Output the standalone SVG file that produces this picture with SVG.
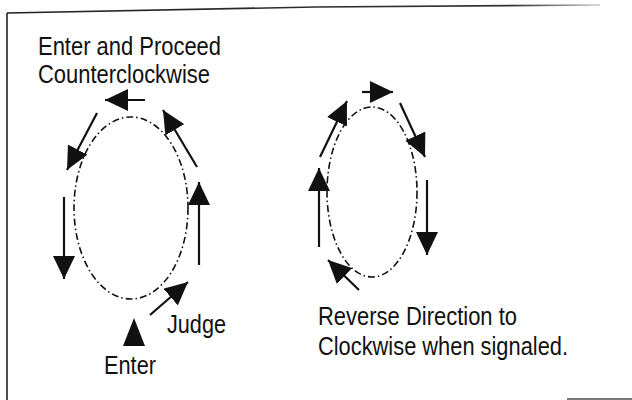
<svg xmlns="http://www.w3.org/2000/svg" width="632" height="400" viewBox="0 0 632 400">
<style>
.lbl{font-family:"Liberation Sans",Arial,sans-serif;font-size:25px;fill:#111}
.track{fill:none;stroke:#111;stroke-width:1.6;stroke-dasharray:7 3 1.5 3}
.arr{stroke:#111;stroke-width:2.2;fill:none;marker-end:url(#ah)}
.frame{stroke:#222;stroke-width:1.6;fill:none}
</style>
<defs>
<marker id="ah" markerUnits="userSpaceOnUse" markerWidth="24" markerHeight="22" viewBox="0 0 24 22" refX="23" refY="11" orient="auto">
<path d="M0,0 L23,11 L0,22 z" fill="#111"/>
</marker>
<linearGradient id="fade" x1="0" y1="0" x2="1" y2="0">
<stop offset="0" stop-color="#222"/>
<stop offset="0.85" stop-color="#333"/>
<stop offset="1" stop-color="#ccc"/>
</linearGradient>
</defs>
<rect width="632" height="400" fill="#fff"/>
<g id="frame">
<line class="frame" x1="7" y1="13" x2="7" y2="400"/>
<polyline points="7,13 316,7 600,5" fill="none" stroke="url(#fade)" stroke-width="1.6"/>
<line x1="567" y1="399" x2="632" y2="399" stroke="#777" stroke-width="2"/>
</g>
<g id="left-track">
<ellipse class="track" cx="131" cy="208" rx="57" ry="91"/>
</g>
<g id="right-track">
<ellipse class="track" cx="372" cy="192" rx="45" ry="85"/>
</g>
<g id="connectors">
<line class="arr" x1="145" y1="100" x2="105" y2="100"/>
<line class="arr" x1="97" y1="113" x2="67" y2="170"/>
<line class="arr" x1="197" y1="167" x2="163" y2="110"/>
<line class="arr" x1="199" y1="265" x2="199" y2="182"/>
<line class="arr" x1="64" y1="197" x2="64" y2="279"/>
<line class="arr" x1="150" y1="315" x2="188" y2="282"/>
<line class="arr" x1="362" y1="92" x2="393" y2="92"/>
<line class="arr" x1="320" y1="157" x2="347" y2="101"/>
<line class="arr" x1="400" y1="103" x2="425" y2="157"/>
<line class="arr" x1="427" y1="180" x2="427" y2="255"/>
<line class="arr" x1="319" y1="247" x2="319" y2="168"/>
<line class="arr" x1="359" y1="290" x2="328" y2="260"/>
<path d="M134,318 L145,346 L123,346 z" fill="#111"/>
</g>
<g id="title">
<text class="lbl" x="38" y="55" textLength="183" lengthAdjust="spacingAndGlyphs">Enter and Proceed</text>
<text class="lbl" x="38" y="83" textLength="172" lengthAdjust="spacingAndGlyphs">Counterclockwise</text>
</g>
<g id="judge"><text class="lbl" x="167" y="333" textLength="59" lengthAdjust="spacingAndGlyphs">Judge</text></g>
<g id="enter"><text class="lbl" x="104" y="374" textLength="52" lengthAdjust="spacingAndGlyphs">Enter</text></g>
<g id="reverse">
<text class="lbl" x="318" y="325" textLength="199" lengthAdjust="spacingAndGlyphs">Reverse Direction to</text>
<text class="lbl" x="318" y="355" textLength="250" lengthAdjust="spacingAndGlyphs">Clockwise when signaled.</text>
</g>
</svg>
